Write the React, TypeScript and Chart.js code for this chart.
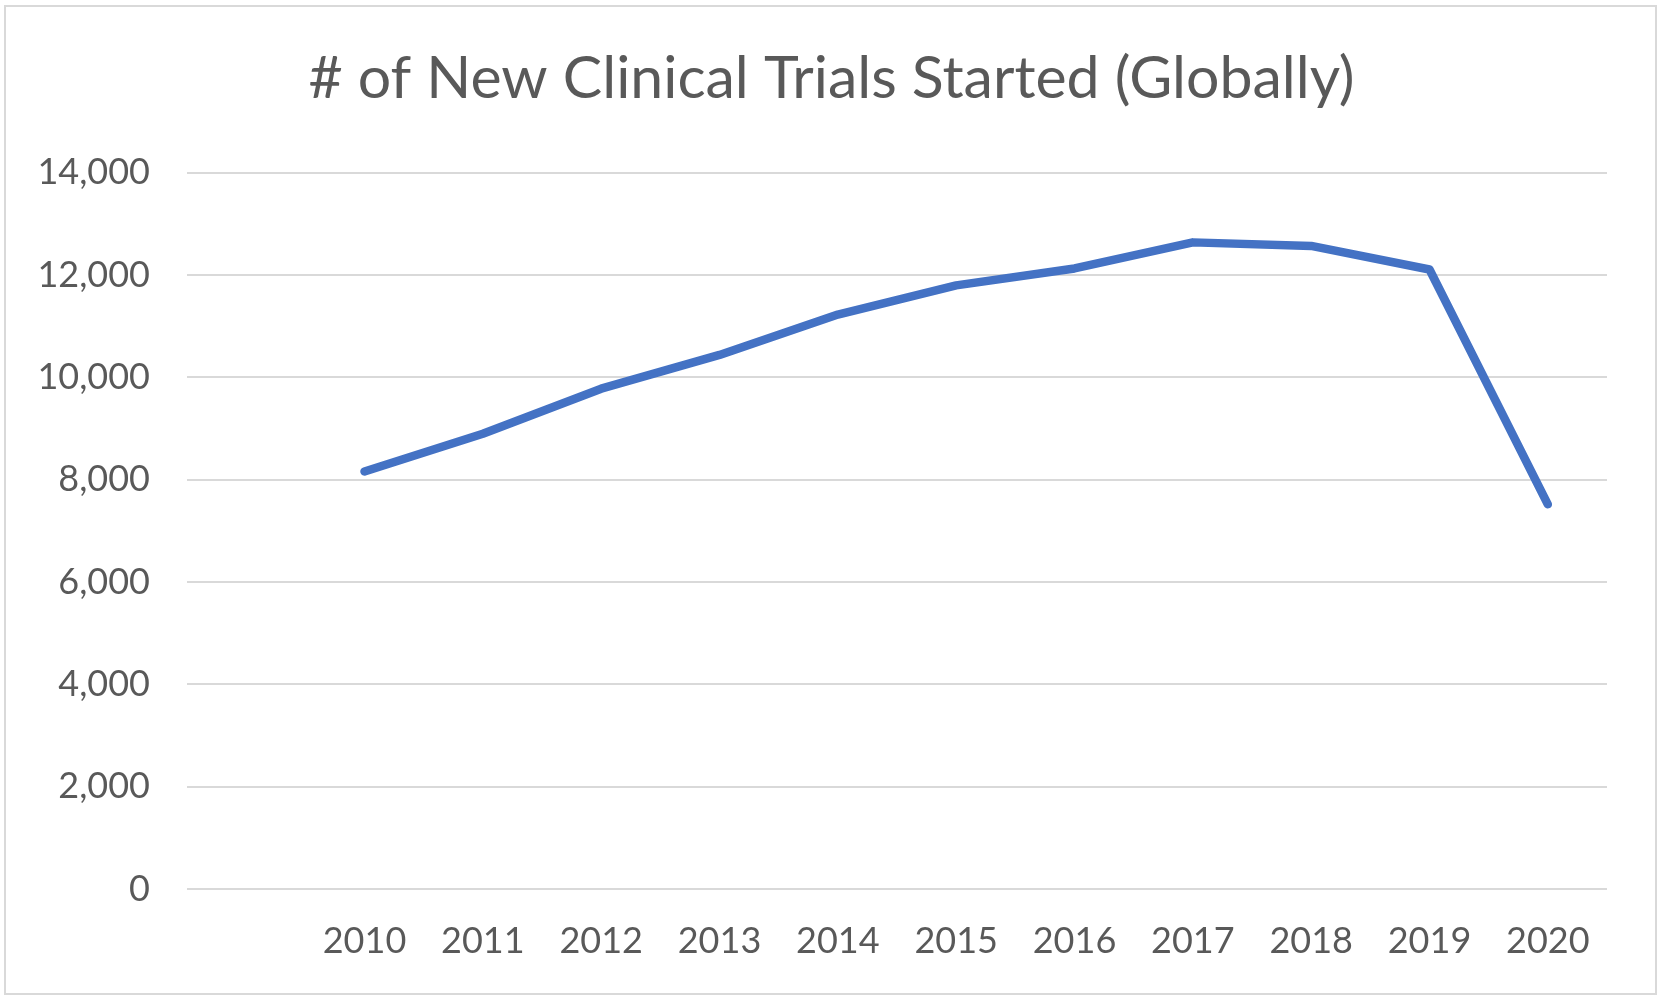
import React, { useEffect, useRef } from "react";
import { Chart, registerables } from "chart.js";

Chart.register(...registerables);

const TITLE = "# of New Clinical Trials Started (Globally)";
const categories = ["", "2010", "2011", "2012", "2013", "2014", "2015", "2016", "2017", "2018", "2019", "2020"];
const trials: (number | null)[] = [null, 8160, 8900, 9780, 10440, 11230, 11800, 12130, 12640, 12570, 12110, 7520];
const yMin = 0;
const yMax = 14000;
const yStep = 2000;

const W = 1663;
const H = 1003;
const TEXT = "#595959";
const GRID = "#d9d9d9";
const FONT = "Lato";

export default function App() {
  const ref = useRef<HTMLCanvasElement | null>(null);

  useEffect(() => {
    document.body.style.margin = "0";
    const canvas = ref.current;
    if (!canvas) return;
    const chart = new Chart(canvas, {
      type: "line",
      data: {
        labels: categories,
        datasets: [
          {
            data: trials,
            borderColor: "#4472C4",
            backgroundColor: "#4472C4",
            borderWidth: 8.5,
            borderCapStyle: "round",
            borderJoinStyle: "round",
            pointRadius: 0,
            tension: 0,
            spanGaps: false,
          },
        ],
      },
      options: {
        animation: false,
        responsive: false,
        devicePixelRatio: 1,
        layout: { padding: { left: 0, right: 0, top: 0, bottom: 0 } },
        plugins: {
          legend: { display: false },
          tooltip: { enabled: false },
          title: {
            display: true,
            text: TITLE,
            color: TEXT,
            font: { family: FONT, size: 59, weight: "normal", lineHeight: 1.2 },
            padding: { top: 44, bottom: 58 },
          },
        },
        scales: {
          x: {
            offset: true,
            grid: { display: false, drawTicks: false },
            border: { display: false },
            ticks: {
              color: TEXT,
              font: { family: FONT, size: 36 },
              padding: 31,
              maxRotation: 0,
              autoSkip: false,
            },
            afterFit: (s: any) => {
              s.height = 114;
            },
          },
          y: {
            min: yMin,
            max: yMax,
            grid: { color: GRID, lineWidth: 2, drawTicks: false },
            border: { display: false },
            ticks: {
              stepSize: yStep,
              color: TEXT,
              font: { family: FONT, size: 36 },
              padding: 37,
              callback: (v: any) => Number(v).toLocaleString("en-US"),
            },
            afterFit: (s: any) => {
              s.width = 187;
            },
          },
          yRight: {
            position: "right",
            display: true,
            min: yMin,
            max: yMax,
            grid: { display: false, drawTicks: false },
            border: { display: false },
            ticks: { display: false },
            afterFit: (s: any) => {
              s.width = 56;
            },
          },
        },
      },
    });
    return () => chart.destroy();
  }, []);

  return (
    <div style={{ position: "relative", width: W, height: H, background: "#fff" }}>
      <canvas ref={ref} width={W} height={H} style={{ display: "block", width: W, height: H }} />
      <div
        style={{
          position: "absolute",
          left: 4,
          top: 5,
          width: 1649,
          height: 986,
          border: "2px solid " + GRID,
          pointerEvents: "none",
        }}
      />
    </div>
  );
}
